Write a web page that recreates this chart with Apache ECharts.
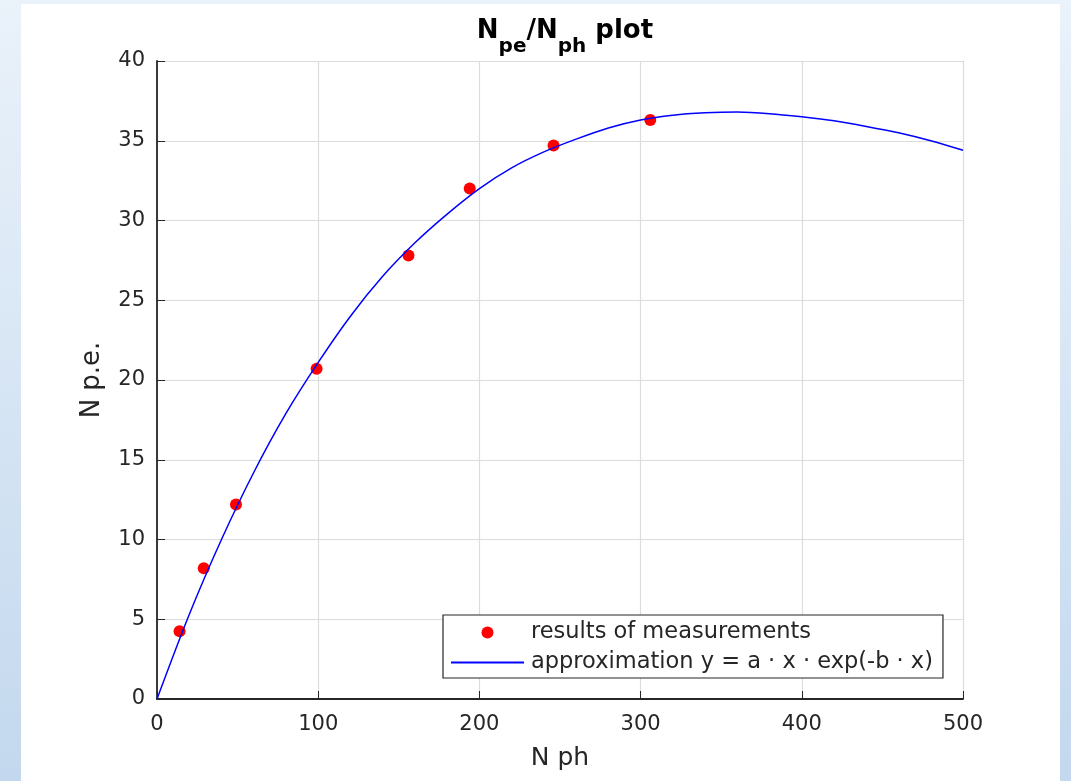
<!DOCTYPE html>
<html>
<head>
  <meta charset="utf-8" />
  <title>Npe/Nph plot</title>
  <style>
    html, body {
      margin: 0;
      padding: 0;
      width: 1071px;
      height: 781px;
      overflow: hidden;
      background: linear-gradient(to bottom, #eaf2fa, #c3d8ee);
    }
    #panel {
      position: absolute;
      left: 21px;
      top: 4px;
      width: 1039px;
      height: 777px;
      background: #ffffff;
    }
    #main {
      position: absolute;
      left: 0;
      top: 0;
      width: 1071px;
      height: 781px;
    }
  </style>
  <script src="https://cdn.jsdelivr.net/npm/echarts@6/dist/echarts.min.js"></script>
</head>
<body>
  <div id="panel"></div>
  <div id="main"></div>
  <script type="text/javascript">
    // measured points
    var measX = [14, 29, 49, 99, 156, 194, 246, 306];
    var measY = [4.25, 8.2, 12.2, 20.7, 27.8, 32.0, 34.7, 36.3];

    // approximation curve, every 20 units
    var fitX = [0, 20, 40, 60, 80, 100, 120, 140, 160, 180, 200, 220, 240, 260, 280, 300, 320, 340, 360, 380, 400, 420, 440, 460, 480, 500];
    var fitY = [0, 5.3, 10.0, 14.2, 17.9, 21.1, 24.0, 26.5, 28.6, 30.4, 32.0, 33.3, 34.3, 35.1, 35.8, 36.3, 36.6, 36.75, 36.8, 36.7, 36.5, 36.25, 35.9, 35.5, 35.0, 34.4];

    var legendNames = ['results of measurements', 'approximation y = a \u00b7 x \u00b7 exp(-b \u00b7 x)'];

    var axisColor = '#262626';
    var gridColor = '#dcdcdc';
    var fontFam = 'DejaVu Sans';

    function pairs(xs, ys) {
      var out = [];
      for (var i = 0; i < xs.length; i++) {
        out.push([xs[i], ys[i]]);
      }
      return out;
    }

    var myChart = echarts.init(document.getElementById('main'), null, { renderer: 'canvas' });

    var option = {
      animation: false,
      backgroundColor: 'transparent',
      textStyle: { fontFamily: fontFam },
      title: {
        text: '{m|N}{s|pe}{m|/N}{s|ph}{m| plot}',
        left: 560,
        top: 22,
        textAlign: 'center',
        textStyle: {
          rich: {
            m: { fontFamily: fontFam, fontSize: 26, fontWeight: 'bold', color: '#000', verticalAlign: 'bottom', lineHeight: 30, padding: [0, 0, 13, 0] },
            s: { fontFamily: fontFam, fontSize: 20, fontWeight: 'bold', color: '#000', verticalAlign: 'bottom', lineHeight: 24 }
          }
        }
      },
      grid: {
        left: 157,
        right: 108,
        top: 61,
        bottom: 82,
        containLabel: false
      },
      legend: {
        orient: 'vertical',
        left: 443,
        top: 615,
        padding: [6, 10, 4, 7],
        itemGap: 7,
        itemWidth: 73,
        itemHeight: 12,
        borderColor: axisColor,
        borderWidth: 1.2,
        backgroundColor: '#fff',
        textStyle: { fontFamily: fontFam, fontSize: 22.5, lineHeight: 22, color: '#262626', padding: [0, 0, 0, 2] },
        data: [
          { name: legendNames[0] },
          { name: legendNames[1], itemStyle: { opacity: 0 } }
        ]
      },
      xAxis: {
        type: 'value',
        min: 0,
        max: 500,
        interval: 100,
        name: 'N ph',
        nameLocation: 'middle',
        nameGap: 47,
        nameTextStyle: { fontFamily: fontFam, fontSize: 25, color: '#262626' },
        axisLine: { show: true, onZero: false, lineStyle: { color: axisColor, width: 1.8 } },
        axisTick: { show: true, inside: true, length: 8, lineStyle: { color: axisColor, width: 1 } },
        axisLabel: { fontFamily: fontFam, fontSize: 21, color: '#262626', margin: 15 },
        splitLine: { show: true, lineStyle: { color: gridColor, width: 1.2 } }
      },
      yAxis: {
        type: 'value',
        min: 0,
        max: 40,
        interval: 5,
        name: 'N p.e.',
        nameLocation: 'middle',
        nameGap: 52,
        nameRotate: 90,
        nameTextStyle: { fontFamily: fontFam, fontSize: 26, color: '#262626' },
        axisLine: { show: true, onZero: false, lineStyle: { color: axisColor, width: 1.8 } },
        axisTick: { show: true, inside: true, length: 8, lineStyle: { color: axisColor, width: 1 } },
        axisLabel: { fontFamily: fontFam, fontSize: 21, color: '#262626', margin: 12, padding: [7, 0, 0, 0] },
        splitLine: { show: true, lineStyle: { color: gridColor, width: 1.2 } }
      },
      series: [
        {
          name: legendNames[0],
          type: 'scatter',
          symbol: 'circle',
          symbolSize: 12,
          itemStyle: { color: '#ff0000', opacity: 1 },
          z: 3,
          data: pairs(measX, measY)
        },
        {
          name: legendNames[1],
          type: 'line',
          smooth: 0.3,
          symbol: 'none',
          showSymbol: false,
          lineStyle: { color: '#0000ff', width: 1.5 },
          itemStyle: { color: '#0000ff' },
          z: 4,
          data: pairs(fitX, fitY)
        }
      ]
    };
    myChart.setOption(option);
  </script>
</body>
</html>
